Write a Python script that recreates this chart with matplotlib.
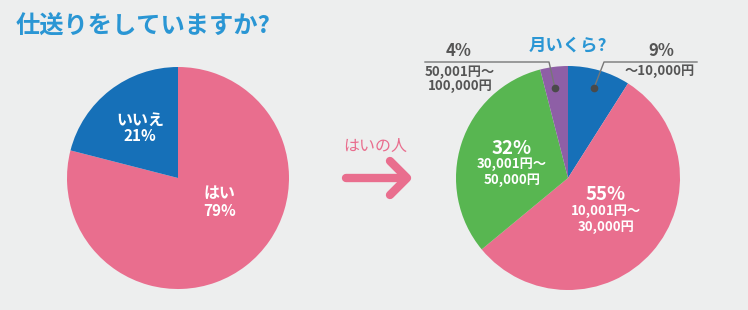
import matplotlib
matplotlib.use("Agg")
import matplotlib.pyplot as plt

plt.rcParams['font.family'] = ['Noto Sans CJK JP', 'DejaVu Sans']

W, H = 748, 310
BG = '#edeeee'
PINK = '#e96e8e'
BLUE = '#1670b8'
GREEN = '#58b651'
PURPLE = '#8e5fa6'
TITLE_BLUE = '#2a96d4'
GRAY = '#555555'

title = '仕送りをしていますか?'
left_labels = ['はい', 'いいえ']
left_values = [79, 21]
right_pcts = [9, 55, 32, 4]
right_ranges = ['〜10,000円', '10,001円〜\n30,000円', '30,001円〜\n50,000円', '50,001円〜\n100,000円']
right_title = '月いくら?'
arrow_label = 'はいの人'

fig = plt.figure(figsize=(W / 100, H / 100), dpi=100, facecolor=BG)
ax = fig.add_axes([0, 0, 1, 1])
ax.set_facecolor(BG)

def Y(y):
    return H - y

ax.pie(left_values, colors=[PINK, BLUE], startangle=90, counterclock=False,
       center=(178, Y(178)), radius=111, wedgeprops=dict(linewidth=0))
ax.pie(right_pcts, colors=[BLUE, PINK, GREEN, PURPLE], startangle=90, counterclock=False,
       center=(568, Y(178)), radius=112, wedgeprops=dict(linewidth=0))
ax.set_xlim(0, W)
ax.set_ylim(0, H)
ax.set_aspect('equal')
ax.axis('off')

ax.text(16, Y(27), title, color=TITLE_BLUE, fontsize=17.5, fontweight='bold', va='center', ha='left')

# left pie labels
ax.text(140, Y(120), left_labels[1], color='white', fontsize=11.5, fontweight='bold', ha='center', va='center')
ax.text(140, Y(136), f'{left_values[1]}%', color='white', fontsize=11, fontweight='bold', ha='center', va='center')
ax.text(220, Y(193), left_labels[0], color='white', fontsize=11.5, fontweight='bold', ha='center', va='center')
ax.text(220, Y(211), f'{left_values[0]}%', color='white', fontsize=11, fontweight='bold', ha='center', va='center')

# arrow
ax.text(375, Y(146), arrow_label, color=PINK, fontsize=11.5, ha='center', va='center')
ax.plot([346, 406], [Y(178), Y(178)], color=PINK, lw=6, solid_capstyle='round')
ax.plot([390, 407, 390], [Y(161), Y(178), Y(195)], color=PINK, lw=6,
        solid_capstyle='round', solid_joinstyle='round')

# right pie title
ax.text(568, Y(45), right_title, color=TITLE_BLUE, fontsize=12.5, fontweight='bold', ha='center', va='center')

# inner labels
ax.text(512, Y(148), f'{right_pcts[2]}%', color='white', fontsize=13.5, fontweight='bold', ha='center', va='center')
ax.text(512, Y(172), right_ranges[2], color='white', fontsize=9.5, fontweight='bold', ha='center', va='center', linespacing=1.1)
ax.text(606, Y(195), f'{right_pcts[1]}%', color='white', fontsize=13.5, fontweight='bold', ha='center', va='center')
ax.text(606, Y(219), right_ranges[1], color='white', fontsize=9.5, fontweight='bold', ha='center', va='center', linespacing=1.1)

# outer labels with leader lines
ax.text(459, Y(51), f'{right_pcts[3]}%', color=GRAY, fontsize=12, fontweight='bold', ha='center', va='center')
ax.text(460, Y(79), right_ranges[3], color=GRAY, fontsize=9.5, fontweight='bold', ha='center', va='center', linespacing=1.05)
ax.plot([425, 549, 555], [Y(62), Y(62), Y(88)], color='#777777', lw=1)
ax.plot([555], [Y(88)], 'o', color='#4a4a4a', ms=4.5)

ax.text(661, Y(51), f'{right_pcts[0]}%', color=GRAY, fontsize=12, fontweight='bold', ha='center', va='center')
ax.text(660, Y(71), right_ranges[0], color=GRAY, fontsize=9.5, fontweight='bold', ha='center', va='center')
ax.plot([594, 604, 697], [Y(88), Y(62), Y(62)], color='#777777', lw=1)
ax.plot([594], [Y(88)], 'o', color='#4a4a4a', ms=4.5)

fig.savefig('out.png', dpi=100, facecolor=BG)
